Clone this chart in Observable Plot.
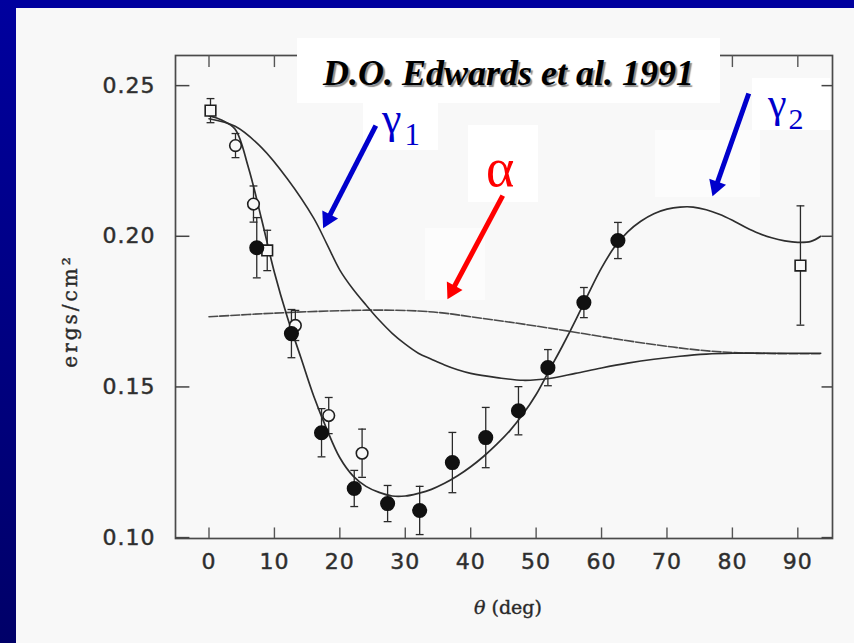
<!DOCTYPE html>
<html><head><meta charset="utf-8">
<script src="https://cdn.jsdelivr.net/npm/d3@7"></script>
<script src="https://cdn.jsdelivr.net/npm/@observablehq/plot@0.6"></script>
<style>
html,body{margin:0;padding:0;overflow:hidden;background:#f8f8f8;}
#slide{position:relative;width:100vw;min-width:854px;height:100vh;min-height:643px;overflow:hidden;background:#f8f8f8;}
.bar-top{position:absolute;left:0;top:0;width:100%;height:8px;background:#00009e;z-index:5;}
.bar-left{position:absolute;left:0;top:0;width:16px;height:100%;background:linear-gradient(#00009e,#000068);z-index:6;}
.ghost{position:absolute;background:#ffffff;}
#chart{position:absolute;left:0;top:0;width:854px;height:643px;overflow:hidden;}
.lab{position:absolute;line-height:1;font-family:"Liberation Serif","Times New Roman",serif;white-space:nowrap;}
#titlebox{position:absolute;left:297px;top:38px;width:423px;height:65px;background:#ffffff;}
#title{position:absolute;left:297px;width:423px;top:57px;line-height:0.9;text-align:center;font-size:36px;font-weight:bold;font-style:italic;color:#000;text-shadow:2px 2px 1px #8c8c8c;}
</style></head>
<body>
<div id="slide">
  <div class="ghost" style="left:363px;top:103px;width:75px;height:47px"></div>
  <div class="ghost" style="left:468px;top:125px;width:70px;height:77px"></div>
  <div class="ghost" style="left:752px;top:78px;width:78px;height:52px"></div>
  <div class="ghost" style="left:655px;top:130px;width:105px;height:67px;background:#fcfcfc"></div>
  <div class="ghost" style="left:425px;top:228px;width:60px;height:72px;background:#fcfcfc"></div>
  <div id="chart"></div>
  <div id="titlebox"></div>
  <div class="lab" id="title">D.O. Edwards et al. 1991</div>
  <div class="lab" style="left:382px;top:101px;line-height:0.8;font-size:44px;color:#0000cc">γ<span style="font-size:31px;position:relative;top:12px;margin-left:3px">1</span></div>
  <div class="lab" style="left:486px;top:141px;font-size:54px;color:#ff0000">α</div>
  <div class="lab" style="left:768px;top:82px;font-size:42px;color:#0000cc">γ<span style="font-size:30px;position:relative;top:12px;margin-left:2px">2</span></div>
  <div class="bar-top"></div>
  <div class="bar-left"></div>
</div>
<script>
// ---- tick labels ----
const xTicks = [0, 10, 20, 30, 40, 50, 60, 70, 80, 90];
const yTicks = [0.10, 0.15, 0.20, 0.25];

// ---- fitted curve through the data ----
const fitTheta = [0,2,4,6,8,10,12,14,16,18,20,22,24,26,28,30,32,34,36,38,40,42,44,46,48,50,52,54,56,58,60,62,64,66,68,70,72,74,76,78,80,82,84,86,88,90,92,93.5];
const fitValue = [0.240,0.2385,0.2355,0.223,0.206,0.188,0.173,0.160,0.147,0.136,0.1265,0.1205,0.117,0.115,0.1138,0.1138,0.1147,0.116,0.118,0.1205,0.1235,0.127,0.131,0.1355,0.141,0.1475,0.1555,0.1635,0.172,0.181,0.1895,0.1965,0.2015,0.205,0.2075,0.209,0.2097,0.2097,0.2088,0.2073,0.2053,0.203,0.201,0.1995,0.1985,0.198,0.1983,0.200];

// ---- gamma1 curve ----
const gamma1Theta = [0,4,8,12,16,18,20,22,24,26,28,30,32,34,36,38,40,44,48,52,56,60,64,68,72,76,80,86,93.5];
const gamma1Value = [0.239,0.2365,0.2295,0.219,0.206,0.1975,0.1888,0.1825,0.1772,0.1722,0.1678,0.1642,0.1612,0.1592,0.1573,0.1557,0.1545,0.1531,0.1522,0.1528,0.1545,0.1563,0.1579,0.1592,0.1602,0.1609,0.1612,0.1612,0.1612];

// ---- alpha curve ----
const alphaTheta = [0,10,20,26,32,36,40,45,50,55,60,65,70,75,80,85,93.5];
const alphaValue = [0.1733,0.1745,0.1753,0.1755,0.1752,0.1745,0.1733,0.1718,0.1702,0.1685,0.1667,0.165,0.1635,0.1622,0.1614,0.1611,0.161];

// ---- measured points ----
const filledTheta = [7.3,12.6,17.2,22.2,27.3,32.2,37.2,42.3,47.3,51.8,57.3,62.5];
const filledValue = [0.1962,0.1677,0.1348,0.1163,0.1113,0.109,0.1249,0.1332,0.1421,0.1564,0.178,0.1986];
const filledError = [0.010,0.008,0.008,0.006,0.006,0.008,0.010,0.010,0.008,0.006,0.005,0.006];

const openCircleTheta = [4.05,6.8,13.2,18.3,23.4];
const openCircleValue = [0.2301,0.2107,0.1704,0.1405,0.128];
const openCircleError = [0.004,0.006,0.005,0.006,0.008];

const openSquareTheta = [0.23,8.9,90.4];
const openSquareValue = [0.2417,0.1953,0.1903];
const openSquareError = [0.004,0.0067,0.0198];

// ---- annotation arrows (tail -> head, in data units) ----
const arrowName = ["gamma1","alpha","gamma2"];
const arrowTailTheta = [25.5,44.9,82.5];
const arrowTailValue = [0.2367,0.2135,0.2474];
const arrowHeadTheta = [17.5,36.5,77.0];
const arrowHeadValue = [0.2029,0.1793,0.2135];
const arrowColor = ["#0000cc","#ff0000","#0000cc"];

const W = 854, H = 643;
const mL = 175, mR = 22, mT = 55, mB = 105;
const xDomain = [-5.12, 95.3];
const yDomain = [0.0997, 0.2600];

const zip = (t, v, e) => t.map((x, i) => ({x, y: v[i], e: e ? e[i] : 0}));
const fit = zip(fitTheta, fitValue);
const g1 = zip(gamma1Theta, gamma1Value);
const al = zip(alphaTheta, alphaValue);
const filled = zip(filledTheta, filledValue, filledError);
const openC = zip(openCircleTheta, openCircleValue, openCircleError);
const openS = zip(openSquareTheta, openSquareValue, openSquareError);
const allPts = [...filled, ...openC, ...openS];
const caps = allPts.flatMap(d => [{x: d.x, y: d.y - d.e}, {x: d.x, y: d.y + d.e}]);

const sx = Plot.scale({x: {domain: xDomain, range: [mL, W - mR]}});
const sy = Plot.scale({y: {domain: yDomain, range: [H - mB, mT]}});
const arrows = arrowName.map((n, i) => {
  const x1 = sx.apply(arrowTailTheta[i]), y1 = sy.apply(arrowTailValue[i]);
  const x2 = sx.apply(arrowHeadTheta[i]), y2 = sy.apply(arrowHeadValue[i]);
  const len = Math.hypot(x2 - x1, y2 - y1);
  const ux = (x2 - x1) / len, uy = (y2 - y1) / len;
  const tip = 9.5;
  return {
    name: n, color: arrowColor[i],
    x1: arrowTailTheta[i], y1: arrowTailValue[i],
    lx: sx.invert(x2 - ux * 12), ly: sy.invert(y2 - uy * 12),
    cx: sx.invert(x2 - ux * tip), cy: sy.invert(y2 - uy * tip),
    rot: Math.atan2(ux, -uy) * 180 / Math.PI
  };
});

const plot = Plot.plot({
  width: W, height: H,
  marginLeft: mL, marginRight: mR, marginTop: mT, marginBottom: mB,
  style: {background: "transparent", fontFamily: "DejaVu Sans", fontSize: "22px", color: "#2c2c2c"},
  x: {domain: xDomain, ticks: xTicks, tickSize: 0, tickPadding: 15, label: null},
  y: {domain: yDomain, ticks: yTicks, tickSize: 0, tickPadding: 20, label: null, tickFormat: d3.format(".2f")},
  marks: [
    Plot.frame({stroke: "#4a4a4a", strokeWidth: 1.7}),
    Plot.ruleX(xTicks, {y1: yDomain[0], y2: yDomain[0] + 0.0035, stroke: "#555", strokeWidth: 1.4}),
    Plot.ruleX(xTicks, {y1: yDomain[1], y2: yDomain[1] - 0.004, stroke: "#555", strokeWidth: 1.4}),
    Plot.ruleY(yTicks, {x1: xDomain[0], x2: xDomain[0] + 2.2, stroke: "#444", strokeWidth: 1.5}),
    Plot.ruleY(yTicks, {x1: xDomain[1], x2: xDomain[1] - 1.6, stroke: "#444", strokeWidth: 1.5}),
    Plot.line(al, {x: "x", y: "y", curve: "catmull-rom", stroke: "#4a4a4a", strokeWidth: 1.6, strokeDasharray: "9,2"}),
    Plot.line(g1, {x: "x", y: "y", curve: "catmull-rom", stroke: "#2e2e2e", strokeWidth: 1.6}),
    Plot.line(fit, {x: "x", y: "y", curve: "catmull-rom", stroke: "#2e2e2e", strokeWidth: 1.7}),
    Plot.ruleX(allPts, {x: "x", y1: d => d.y - d.e, y2: d => d.y + d.e, stroke: "#2a2a2a", strokeWidth: 1.3}),
    Plot.link(caps, {x1: d => d.x - 0.6, x2: d => d.x + 0.6, y1: "y", y2: "y", stroke: "#2a2a2a", strokeWidth: 1.3}),
    Plot.dot(openS, {x: "x", y: "y", symbol: "square", r: 6, fill: "#f8f8f8", stroke: "#1e1e1e", strokeWidth: 1.6}),
    Plot.dot(openC, {x: "x", y: "y", symbol: "circle", r: 5.8, fill: "#f8f8f8", stroke: "#1e1e1e", strokeWidth: 1.6}),
    Plot.dot(filled, {x: "x", y: "y", symbol: "circle", r: 6.8, fill: "#111", stroke: "#111"}),
    Plot.link(arrows, {x1: "x1", y1: "y1", x2: "lx", y2: "ly", stroke: "color", strokeWidth: 5}),
    Plot.dot(arrows, {x: "cx", y: "cy", symbol: "triangle", r: 6.6, fill: "color", rotate: "rot"})
  ]
});

const svg = d3.select(plot);
svg.selectAll("[aria-label='x-axis tick label'] text, [aria-label='y-axis tick label'] text")
  .attr("letter-spacing", "1px").attr("stroke", "#3a3a3a").attr("stroke-width", 0.5);
svg.append("text")
  .attr("transform", "translate(70,311) rotate(-90)")
  .attr("text-anchor", "middle").attr("dominant-baseline", "central")
  .attr("font-family", "DejaVu Serif").attr("font-size", 20).attr("letter-spacing", "3px")
  .attr("fill", "#262626").attr("stroke", "#333").attr("stroke-width", 0.4).text("ergs/cm²");
const xl = svg.append("text")
  .attr("x", 508).attr("y", 614).attr("text-anchor", "middle")
  .attr("font-family", "DejaVu Serif").attr("font-size", 19).attr("fill", "#262626")
  .attr("stroke", "#333").attr("stroke-width", 0.4);
xl.append("tspan").attr("font-style", "italic").text("θ");
xl.append("tspan").text(" (deg)");

document.getElementById("chart").appendChild(plot);
</script>
</body></html>
